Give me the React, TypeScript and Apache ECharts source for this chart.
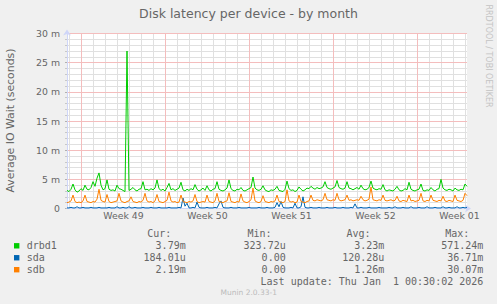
import React, { useEffect, useRef } from "react";
import * as echarts from "echarts";

const TITLE = "Disk latency per device - by month";
const Y_TITLE = "Average IO Wait (seconds)";
const WATERMARK = "RRDTOOL / TOBI OETIKER";
const VERSION = "Munin 2.0.33-1";
const WEEK_LABELS = ["Week 49", "Week 50", "Week 51", "Week 52", "Week 01"];
const STEP_HOURS = 4;

// values in milliseconds, one every 4 hours
const DRBD1 = [
  3.1, 2.9, 3.3, 4.2, 3.2, 2.8, 3.0, 3.4, 3.1, 4.0,
  3.3, 3.2, 3.6, 4.6, 3.8, 5.2, 6.1, 4.0, 3.2, 3.4,
  4.9, 3.3, 3.1, 3.2, 3.0, 4.0, 3.4, 3.3, 3.1, 2.9,
  27.0, 3.1, 3.3, 3.6, 3.2, 3.0, 3.3, 3.4, 4.6, 3.2,
  3.3, 3.1, 3.4, 3.2, 3.5, 4.9, 3.4, 3.1, 3.3, 3.0,
  3.6, 4.3, 3.2, 3.4, 3.1, 3.3, 3.5, 4.5, 3.2, 3.0,
  3.3, 3.1, 3.4, 3.2, 4.1, 3.3, 3.0, 3.2, 3.5, 3.1,
  3.9, 3.2, 3.0, 3.3, 3.4, 4.6, 3.3, 3.1, 3.0, 3.2,
  3.5, 4.9, 3.4, 3.1, 3.0, 3.3, 3.2, 3.6, 3.1, 3.0,
  3.2, 3.4, 3.6, 5.4, 3.5, 3.2, 3.1, 3.3, 3.9, 3.2,
  3.0, 2.9, 3.2, 3.1, 3.3, 3.8, 3.1, 3.0, 2.9, 3.3,
  4.7, 3.4, 3.1, 3.2, 2.9, 3.1, 3.7, 3.3, 3.0, 3.2,
  3.5, 3.4, 3.8, 3.5, 3.3, 3.6, 3.4, 3.5, 3.7, 4.6,
  3.6, 3.4, 3.3, 3.5, 3.7, 4.8, 3.6, 3.4, 3.3, 3.5,
  4.6, 3.5, 3.4, 3.2, 3.4, 3.6, 3.3, 4.0, 3.4, 3.2,
  3.3, 3.6, 4.7, 3.5, 3.3, 3.2, 3.4, 3.3, 4.1, 3.2,
  3.0, 3.2, 3.1, 3.0, 3.3, 3.8, 3.2, 3.0, 3.1, 3.4,
  3.2, 4.5, 3.3, 3.1, 3.0, 3.2, 3.3, 4.2, 3.1, 3.0,
  3.2, 3.1, 3.6, 3.2, 3.0, 3.3, 3.4, 5.0, 3.5, 3.2,
  3.1, 3.3, 3.2, 3.0, 3.5, 3.2, 3.1, 3.3, 3.2, 4.2,
  3.8,
];

const SDA = [
  0.1, 0.1, 0.2, 0.1, 0.1, 0.3, 0.1, 0.1, 0.2, 0.1,
  0.1, 0.1, 0.2, 0.1, 0.1, 0.1, 0.2, 0.1, 0.1, 0.1,
  0.1, 0.2, 0.1, 0.1, 0.1, 0.3, 0.1, 0.1, 0.2, 0.1,
  0.1, 0.3, 0.1, 0.1, 0.2, 0.1, 0.1, 0.1, 0.2, 0.1,
  0.1, 0.1, 0.2, 0.1, 0.1, 0.1, 0.2, 0.1, 0.1, 0.1,
  0.1, 0.2, 0.1, 0.1, 0.1, 0.1, 0.2, 0.1, 1.8, 0.4,
  0.9, 0.1, 0.1, 0.2, 0.1, 1.1, 0.2, 0.1, 0.1, 0.1,
  0.2, 0.1, 0.1, 0.1, 0.2, 0.1, 0.8, 1.3, 0.2, 0.1,
  0.1, 0.1, 0.2, 0.1, 0.1, 0.1, 0.2, 0.1, 0.1, 0.1,
  0.1, 0.2, 0.1, 0.1, 0.1, 0.1, 0.2, 0.1, 0.1, 0.1,
  0.2, 0.1, 0.1, 0.1, 0.2, 1.0, 0.3, 1.2, 0.2, 0.1,
  0.1, 0.1, 0.2, 0.1, 0.9, 0.1, 0.1, 0.3, 2.0, 0.2,
  0.1, 0.1, 0.2, 0.1, 0.1, 0.1, 0.2, 0.1, 0.1, 0.1,
  0.2, 0.1, 0.1, 0.1, 0.2, 0.1, 0.1, 0.1, 0.2, 0.1,
  0.1, 0.1, 0.2, 0.1, 0.8, 0.1, 0.1, 0.2, 0.1, 0.1,
  0.1, 0.2, 0.1, 0.1, 0.1, 0.1, 0.2, 0.1, 0.1, 0.1,
  0.1, 0.2, 0.1, 0.1, 0.3, 0.1, 0.1, 0.1, 0.2, 0.1,
  0.1, 0.1, 0.3, 0.1, 0.1, 0.1, 0.2, 0.1, 0.1, 0.1,
  0.3, 0.1, 0.1, 0.1, 0.2, 0.1, 0.1, 0.1, 0.3, 0.1,
  0.1, 0.2, 0.1, 0.1, 0.1, 0.3, 0.1, 0.1, 0.2, 0.1,
  0.18,
];

const SDB = [
  1.0, 1.1, 1.3, 2.3, 1.2, 1.0, 1.1, 1.0, 1.3, 2.3,
  1.2, 1.1, 1.0, 1.2, 1.1, 1.6, 3.3, 1.4, 1.2, 1.1,
  2.4, 1.2, 1.0, 1.1, 1.2, 1.3, 2.6, 1.3, 1.1, 1.0,
  1.2, 1.3, 2.0, 1.2, 1.1, 1.0, 1.2, 1.1, 1.4, 2.6,
  1.3, 1.1, 1.2, 1.0, 1.3, 2.4, 1.2, 1.1, 1.0, 1.2,
  1.4, 2.8, 1.3, 1.1, 1.2, 1.0, 1.1, 2.3, 1.2, 1.1,
  1.0, 1.2, 1.1, 1.3, 2.4, 1.2, 1.0, 1.1, 1.2, 1.1,
  2.3, 1.2, 1.1, 1.0, 1.3, 2.6, 1.2, 1.1, 1.0, 1.2,
  1.3, 2.7, 1.2, 1.1, 1.0, 1.2, 1.1, 2.5, 1.3, 1.1,
  1.0, 1.2, 1.5, 3.5, 1.3, 1.1, 1.0, 1.2, 2.2, 1.2,
  1.1, 1.0, 1.2, 1.1, 1.3, 2.3, 1.2, 1.1, 1.0, 1.2,
  3.2, 1.3, 1.1, 1.2, 1.0, 1.1, 2.3, 1.2, 1.1, 1.0,
  1.2, 1.3, 2.3, 1.4, 1.3, 1.5, 1.4, 1.3, 1.5, 2.6,
  1.5, 1.4, 1.3, 1.5, 1.4, 2.6, 1.5, 1.3, 1.4, 1.5,
  2.3, 1.4, 1.5, 1.3, 1.4, 1.5, 1.4, 2.1, 1.5, 1.3,
  1.4, 1.6, 3.7, 1.5, 1.4, 1.3, 1.5, 1.4, 2.3, 1.4,
  1.3, 1.4, 1.5, 1.3, 1.4, 2.1, 1.3, 1.2, 1.4, 1.3,
  1.2, 2.3, 1.3, 1.4, 1.2, 1.3, 1.4, 2.6, 1.3, 1.2,
  1.4, 1.3, 2.3, 1.4, 1.3, 1.2, 1.4, 1.3, 2.1, 1.3,
  1.2, 1.4, 1.3, 1.2, 2.3, 1.4, 1.3, 1.2, 1.4, 2.6,
  2.2,
];

const SERIES_NAMES = ["drbd1", "sda", "sdb"];
const SERIES_COLORS = ["#00CC00", "#0066B3", "#FF8000"];
const HEADERS = ["Cur:", "Min:", "Avg:", "Max:"];
const CUR = ["3.79m", "184.01u", "2.19m"];
const MIN = ["323.72u", "0.00", "0.00"];
const AVG = ["3.23m", "120.28u", "1.26m"];
const MAX = ["571.24m", "36.71m", "30.07m"];
const LAST_UPDATE = "Last update: Thu Jan \u00a01 00:30:02 2026";

export default function App() {
  const ref = useRef<HTMLDivElement>(null);

  useEffect(() => {
    const el = ref.current;
    if (!el) return;
    const chart = echarts.init(el, null, { renderer: "svg", width: 497, height: 304 });

    const TOP = 33.5;
    const BOTTOM = 208.5;
    const RIGHT = 467;
    const H_PER_PX = 2;
    const LEFT = 67;
    const DAY_LEFT = 69.5;
    const WEEK_LEFT = 81.5;
    const LABEL_LEFT = 123.5;
    const HEIGHT = BOTTOM - TOP;
    const FONT = "DejaVu Sans";
    const MONO = "DejaVu Sans Mono";
    const TXT = "#666666";
    const AXIS = "#CFD6F8";
    const MGRID = "#F4BDBD";
    const GRID = "#E0E0E0";

    const mkGrid = (left: number, show = false) => ({
      left,
      top: TOP,
      width: RIGHT - left,
      height: HEIGHT,
      show,
      backgroundColor: "#FFFFFF",
      borderWidth: 0,
      containLabel: false,
    });

    const hiddenY = (gridIndex: number) => ({
      gridIndex,
      type: "value",
      min: 0,
      max: 1,
      show: false,
    });

    const toPts = (arr: number[]) => arr.map((v, i) => [i * STEP_HOURS, v]);
    const data = [DRBD1, SDA, SDB];

    const txt = (text: string, x: number, y: number, font: string, fill: string, align = "center", rotation = 0) => ({
      type: "text",
      x,
      y,
      rotation,
      style: {
        text,
        fill,
        font,
        align,
        verticalAlign: "middle",
        textAlign: align,
        textVerticalAlign: "middle",
      },
    });

    const graphics: any[] = [
      txt(TITLE, 248.5, 13.5, `12.5px "${FONT}"`, TXT),
      txt(Y_TITLE, 10.5, 120.5, `10.9px "${FONT}"`, TXT, "center", Math.PI / 2),
      txt(WATERMARK, 488.5, 56, `8px "${FONT}"`, "#C4C4C4", "center", -Math.PI / 2),
      txt(VERSION, 248.7, 292.7, `7.5px "${FONT}"`, "#BBBBBB"),
    ];

    const HEADER_Y = 233.9;
    const ROW_Y0 = 245.8;
    const ROW_DY = 11.95;
    const HEADER_RIGHT = [171.3, 271.5, 370.5, 469.3];
    const COL_RIGHT = [185.7, 285.7, 384.3, 483.3];
    const MONO_FONT = `10px "${MONO}"`;
    HEADERS.forEach((h, k) => graphics.push(txt(h, HEADER_RIGHT[k], HEADER_Y, MONO_FONT, TXT, "right")));
    const cols = [CUR, MIN, AVG, MAX];
    SERIES_NAMES.forEach((name, r) => {
      const y = ROW_Y0 + r * ROW_DY;
      graphics.push({
        type: "rect",
        shape: { x: 14, y: y - 2.7, width: 5.4, height: 5.4 },
        style: { fill: SERIES_COLORS[r] },
      });
      graphics.push(txt(name, 26.7, y, MONO_FONT, TXT, "left"));
      cols.forEach((col, k) => graphics.push(txt(col[r], COL_RIGHT[k], y, MONO_FONT, TXT, "right")));
    });
    graphics.push(txt(LAST_UPDATE, 483.3, ROW_Y0 + 3 * ROW_DY, MONO_FONT, TXT, "right"));

    chart.setOption({
      animation: false,
      backgroundColor: "#F0F0F0",
      grid: [mkGrid(LEFT, true), mkGrid(DAY_LEFT), mkGrid(WEEK_LEFT), mkGrid(LABEL_LEFT)],
      xAxis: [
        {
          gridIndex: 0,
          type: "value",
          min: 0,
          max: (RIGHT - LEFT) * H_PER_PX,
          z: 2,
          axisLabel: { show: false },
          axisTick: { show: false },
          splitLine: { show: false },
          axisLine: {
            show: true,
            lineStyle: { color: AXIS, width: 1 },
            symbol: ["none", "arrow"],
            symbolSize: [6, 6],
            symbolOffset: [0, 4],
          },
        },
        {
          gridIndex: 1,
          type: "value",
          min: 0,
          max: (RIGHT - DAY_LEFT) * H_PER_PX,
          interval: 24,
          z: 0,
          axisLabel: { show: false },
          axisTick: { show: false },
          axisLine: { show: false },
          splitLine: {
            show: true,
            showMaxLine: false,
            lineStyle: { color: GRID, width: 1, type: "solid" },
          },
        },
        {
          gridIndex: 2,
          type: "value",
          min: 0,
          max: (RIGHT - WEEK_LEFT) * H_PER_PX,
          interval: 168,
          z: 1,
          axisLabel: { show: false },
          axisTick: { show: false },
          axisLine: { show: false },
          splitLine: {
            show: true,
            showMaxLine: false,
            lineStyle: { color: MGRID, width: 1, type: "solid" },
          },
        },
        {
          gridIndex: 3,
          type: "value",
          min: 0,
          max: (RIGHT - LABEL_LEFT) * H_PER_PX,
          interval: 168,
          axisTick: { show: false },
          axisLine: { show: false },
          splitLine: { show: false },
          axisLabel: {
            show: true,
            margin: 2,
            color: TXT,
            fontSize: 9.33,
            fontFamily: FONT,
            showMaxLabel: false,
            formatter: (v: number) =>
              v % 168 === 0 ? WEEK_LABELS[Math.round(v / 168)] ?? "" : "",
          },
        },
      ],
      yAxis: [
        {
          gridIndex: 0,
          type: "value",
          min: 0,
          max: 30,
          interval: 5,
          z: 1,
          axisLine: {
            show: true,
            lineStyle: { color: AXIS, width: 1 },
            symbol: ["none", "arrow"],
            symbolSize: [6, 6],
            symbolOffset: [0, 4],
          },
          axisTick: { show: true, length: 2, lineStyle: { color: "#B0B0B0" } },
          minorTick: { show: true, splitNumber: 5, length: 2, lineStyle: { color: "#C8C8C8" } },
          axisLabel: {
            margin: 7,
            color: TXT,
            fontSize: 9.33,
            fontFamily: FONT,
            formatter: (v: number) => (v === 0 ? "0" : `${v} m`),
          },
          splitLine: {
            show: true,
            showMinLine: false,
            lineStyle: { color: MGRID, width: 1, type: "solid" },
          },
          minorSplitLine: {
            show: true,
            lineStyle: { color: GRID, width: 1, type: "solid" },
          },
        },
        hiddenY(1),
        hiddenY(2),
        hiddenY(3),
      ],
      series: SERIES_NAMES.map((name, k) => ({
        name,
        type: "line",
        xAxisIndex: 0,
        yAxisIndex: 0,
        data: toPts(data[k]),
        showSymbol: false,
        symbol: "none",
        lineStyle: { color: SERIES_COLORS[k], width: 1 },
        itemStyle: { color: SERIES_COLORS[k] },
        z: 3 + k,
      })),
      graphic: { elements: graphics },
    });

    return () => chart.dispose();
  }, []);

  return (
    <div
      ref={ref}
      style={{
        position: "fixed",
        left: 0,
        top: 0,
        width: 497,
        height: 304,
        background: "#F0F0F0",
      }}
    />
  );
}
